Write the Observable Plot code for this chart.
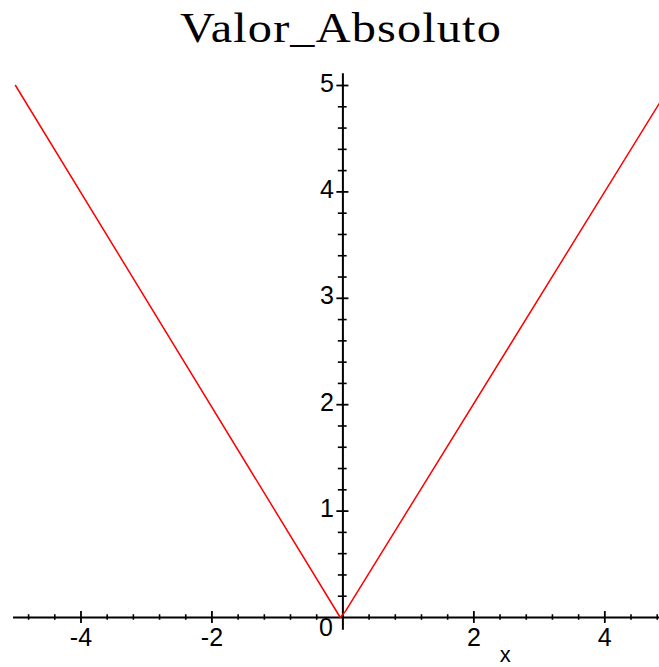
<!DOCTYPE html>
<html>
<head>
<meta charset="utf-8">
<script src="https://cdn.jsdelivr.net/npm/d3@7"></script>
<script src="https://cdn.jsdelivr.net/npm/@observablehq/plot@0.6"></script>
<style>
  html, body { margin: 0; padding: 0; background: #fff; }
  #title {
    height: 60px;
    width: 659px;
    text-align: center;
    font-family: "Liberation Serif", "Times New Roman", serif;
    font-size: 42px;
    line-height: 56px;
    color: #000;
    padding-left: 22px;
    box-sizing: border-box;
  }
  #title span {
    display: inline-block;
    letter-spacing: 1px;
    transform: scaleX(1.15);
  }
  #chart svg { overflow: visible; display: block; }
</style>
</head>
<body>
<div id="title"><span>Valor_Absoluto</span></div>
<div id="chart"></div>
<script>
// y = |x| sampled as plotted
const curveX = [-5, -0.04, 0.04, 4.83];
const curveY = [5, 0, 0.06, 4.83];

// axis ticks
const xMajorTicks = [-4, -2, 2, 4];
const xTickLabels = ["-4", "-2", "2", "4"];
const xMinorTicks = [-4.8, -4.4, -3.6, -3.2, -2.8, -2.4, -1.6, -1.2, -0.8, -0.4,
                     0.4, 0.8, 1.2, 1.6, 2.4, 2.8, 3.2, 3.6, 4.4, 4.8];
const yMajorTicks = [1, 2, 3, 4, 5];
const yTickLabels = ["1", "2", "3", "4", "5"];
const yMinorTicks = [0.2, 0.4, 0.6, 0.8, 1.2, 1.4, 1.6, 1.8, 2.2, 2.4, 2.6, 2.8,
                     3.2, 3.4, 3.6, 3.8, 4.2, 4.4, 4.6, 4.8];

const points = curveX.map((x, i) => ({x, y: curveY[i]}));
const xLabelRows = xMajorTicks.map((x, i) => ({x, label: xTickLabels[i]}));
const yLabelRows = yMajorTicks.map((y, i) => ({y, label: yTickLabels[i]}));

const plot = Plot.plot({
  width: 659,
  height: 607,
  marginTop: 25,
  marginBottom: 50,
  marginLeft: 15,
  marginRight: 0,
  x: {domain: [-5, 4.835], axis: null},
  y: {domain: [0, 5], axis: null},
  style: {fontFamily: "Liberation Sans, Arial, sans-serif", fontSize: "25px", background: "#fff", color: "#000"},
  marks: [
    // axes crossing at the origin
    Plot.ruleY([0], {x1: -5.03, x2: 4.835, stroke: "#000", strokeWidth: 2}),
    Plot.ruleX([0], {y1: -0.12, y2: 5.11, stroke: "#000", strokeWidth: 2}),
    // tick marks on the x axis
    Plot.ruleX(xMinorTicks, {x: d => d, y1: -0.026, y2: 0.026, stroke: "#000", strokeWidth: 1.6}),
    Plot.ruleX(xMajorTicks, {x: d => d, y1: -0.056, y2: 0.056, stroke: "#000", strokeWidth: 1.8}),
    // tick marks on the y axis
    Plot.ruleY(yMinorTicks, {y: d => d, x1: -0.07, x2: 0.065, stroke: "#000", strokeWidth: 1.6}),
    Plot.ruleY(yMajorTicks, {y: d => d, x1: -0.092, x2: 0.092, stroke: "#000", strokeWidth: 1.8}),
    // the curve
    Plot.line(points, {x: "x", y: "y", stroke: "#ff0000", strokeWidth: 1.5}),
    // tick labels
    Plot.text(xLabelRows, {x: "x", y: 0, text: "label", dy: 20, fill: "#000"}),
    Plot.text([0], {x: 0, y: 0, text: () => "0", dx: -17, dy: 10, fill: "#000"}),
    Plot.text(yLabelRows, {x: 0, y: "y", text: "label", dx: -9, dy: -2, textAnchor: "end", fill: "#000"}),
    // axis name
    Plot.text(["x"], {x: 2.48, y: 0, text: d => d, dy: 37, fill: "#000", fontSize: 22})
  ]
});
document.getElementById("chart").appendChild(plot);
</script>
</body>
</html>
